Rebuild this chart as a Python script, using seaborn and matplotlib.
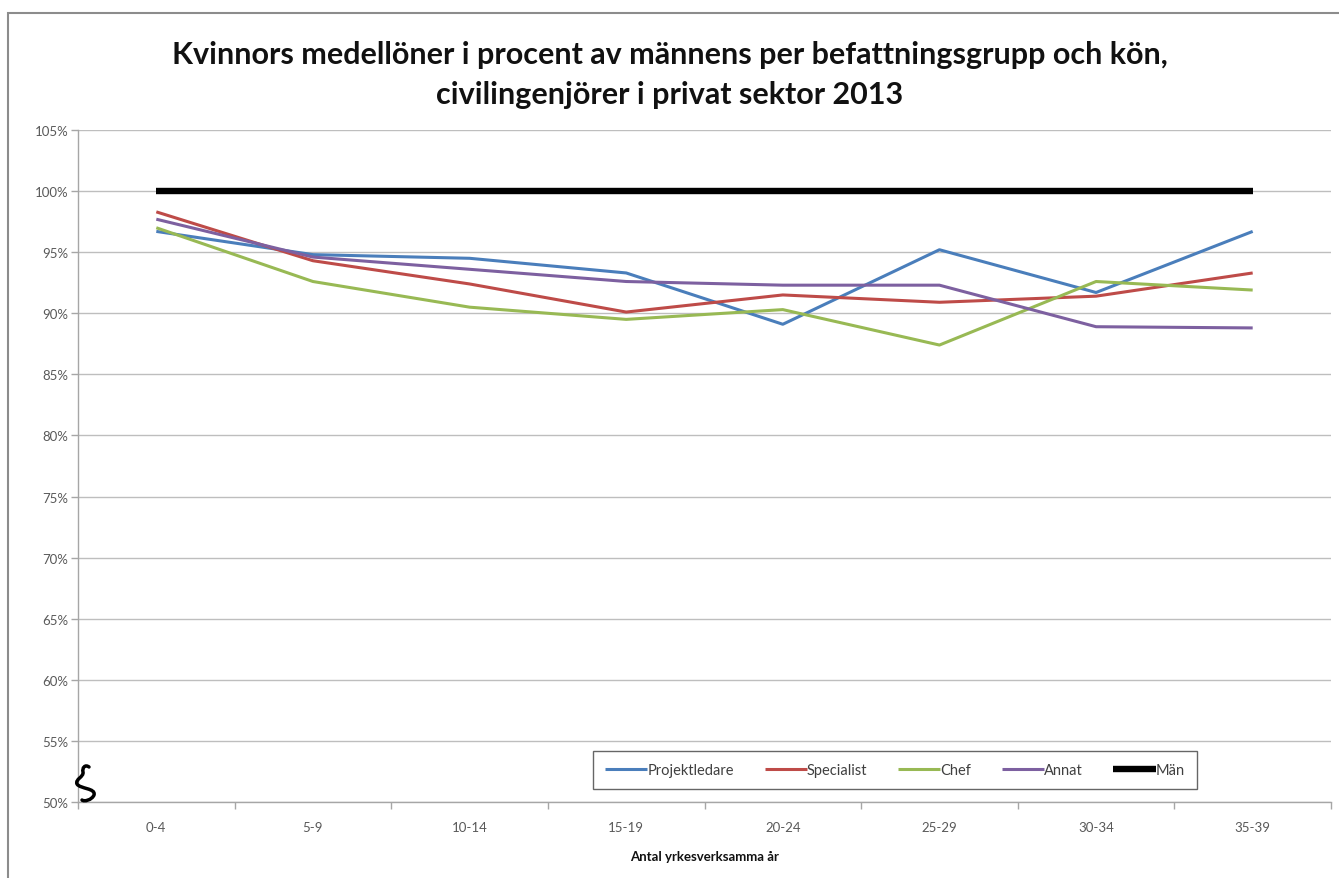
import matplotlib
matplotlib.use("Agg")
import matplotlib.pyplot as plt
from matplotlib.patches import Rectangle, PathPatch
from matplotlib.path import Path
from matplotlib.transforms import Affine2D
from matplotlib.ticker import PercentFormatter, FixedLocator
import pandas as pd
import seaborn as sns

# Salary ratio of women vs men (percent), civil engineers in private sector 2013
categories = ["0-4", "5-9", "10-14", "15-19", "20-24", "25-29", "30-34", "35-39"]
projektledare = [96.7, 94.8, 94.5, 93.3, 89.1, 95.2, 91.7, 96.7]
specialist = [98.3, 94.3, 92.4, 90.1, 91.5, 90.9, 91.4, 93.3]
chef = [97.0, 92.6, 90.5, 89.5, 90.3, 87.4, 92.6, 91.9]
annat = [97.7, 94.6, 93.6, 92.6, 92.3, 92.3, 88.9, 88.8]
man = [100, 100, 100, 100, 100, 100, 100, 100]

series_names = ["Projektledare", "Specialist", "Chef", "Annat", "Män"]
series_values = [projektledare, specialist, chef, annat, man]
colors = ["#4A7EBB", "#BE4B48", "#98B954", "#7D60A0", "#000000"]
widths = [2.2, 2.2, 2.2, 2.2, 4.6]

y_ticks = [50, 55, 60, 65, 70, 75, 80, 85, 90, 95, 100, 105]

title = ("Kvinnors medellöner i procent av männens per befattningsgrupp och kön,\n"
         "civilingenjörer i privat sektor 2013")
x_label = "Antal yrkesverksamma år"

rows = []
for name, vals in zip(series_names, series_values):
    for i, (cat, v) in enumerate(zip(categories, vals)):
        rows.append({"Grupp": name, "pos": i, "Kategori": cat, "Värde": v})
df = pd.DataFrame(rows)

sns.set_theme(style="white")
plt.rcParams["font.family"] = ["Lato", "DejaVu Sans"]

fig = plt.figure(figsize=(13.39, 8.79), dpi=100)
ax = fig.add_axes([78 / 1339, 1 - 803 / 879, (1331 - 78) / 1339, (803 - 131) / 879])

for name, col, lw in zip(series_names, colors, widths):
    sub = df[df["Grupp"] == name]
    sns.lineplot(data=sub, x="pos", y="Värde", color=col, linewidth=lw,
                 ax=ax, label=name, sort=False, zorder=3 if name != "Män" else 4)
    ax.lines[-1].set_solid_capstyle("butt")

ax.set_xlim(-0.5, len(categories) - 0.5)
ax.set_ylim(50, 105)
ax.set_yticks(y_ticks)
ax.yaxis.set_major_formatter(PercentFormatter(xmax=100, decimals=0))
ax.set_xticks(range(len(categories)))
ax.set_xticklabels(categories)
ax.xaxis.set_minor_locator(FixedLocator([i - 0.5 for i in range(len(categories) + 1)]))

ax.grid(axis="y", color="#BEBEBE", linewidth=1.0, zorder=0)
ax.grid(axis="x", visible=False)
ax.set_axisbelow(True)
for side in ["top", "right"]:
    ax.spines[side].set_visible(False)
for side in ["left", "bottom"]:
    ax.spines[side].set_color("#A6A6A6")
    ax.spines[side].set_linewidth(1.0)

ax.tick_params(axis="x", which="major", length=0, pad=14, labelsize=9.5, labelcolor="#595959")
ax.tick_params(axis="x", which="minor", length=5, width=1, color="#A6A6A6", direction="out", bottom=True)
ax.tick_params(axis="y", which="major", length=5, width=1, color="#A6A6A6", direction="out",
               left=True, pad=2, labelsize=9.5, labelcolor="#595959")

ax.set_xlabel(x_label, fontsize=9.5, fontweight="bold", color="#111111", labelpad=12)
ax.set_ylabel("")

fig.suptitle(title, x=0.5, y=0.953, fontsize=22, fontweight="bold", color="#111111",
             linespacing=1.5, va="top")

leg = ax.legend(loc="center", bbox_to_anchor=((895 - 78) / 1253, (803 - 771) / 672), ncol=5,
                frameon=True, fancybox=False, fontsize=10.5, handlelength=2.9,
                handletextpad=0.0, columnspacing=2.1, borderpad=0.85, borderaxespad=0,
                edgecolor="#404040")
leg.get_frame().set_linewidth(1.0)
for txt in leg.get_texts():
    txt.set_color("#404040")

# axis break mark at the bottom of the value axis (pixel offsets from the axis origin)
verts = [(6, 34), (2, 37), (-1, 33), (0, 29),
         (1, 24), (-8, 22), (-6, 17),
         (-3, 12), (13, 13), (11, 6),
         (9, 1), (1, -1), (-1, 1)]
codes = [Path.MOVETO] + [Path.CURVE4] * 12
origin = ax.transAxes.transform((0, 0))
brk_tr = Affine2D().translate(origin[0] + 5, origin[1] + 1)
ax.add_artist(PathPatch(Path(verts, codes), transform=brk_tr, fill=False,
                        edgecolor="black", linewidth=2.5, zorder=6, clip_on=False,
                        capstyle="round"))

# chart area border
fig.patches.append(Rectangle((8 / 1339, -0.05), 1.2, 1 - 14 / 879 + 0.05,
                             transform=fig.transFigure, fill=False,
                             edgecolor="#8C8C8C", linewidth=1.5))

fig.savefig("out.png", dpi=100)
